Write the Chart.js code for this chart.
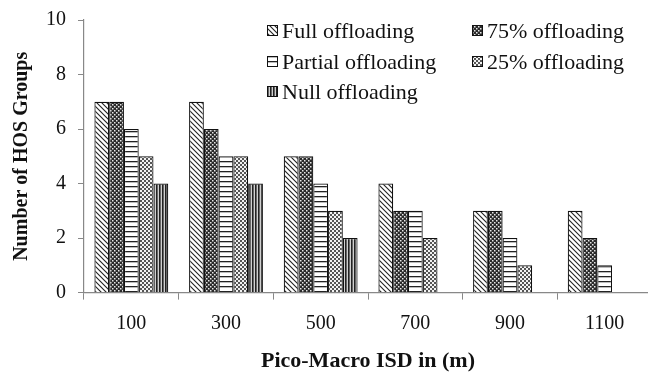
<!DOCTYPE html>
<html>
<head>
<meta charset="utf-8">
<script src="https://cdn.jsdelivr.net/npm/chart.js@4/dist/chart.umd.min.js"></script>
<style>
  html, body { margin: 0; padding: 0; background: #fff; overflow: hidden; }
  #wrap { width: 656px; height: 379px; margin-top: -4px; position: relative; }
</style>
</head>
<body>
<div id="wrap"><canvas id="hos-chart"></canvas></div>
<script>
// Number of HOS groups per Pico-Macro ISD
var categories = [ '100', '300', '500', '700', '900', '1100' ];
var seriesNames = [ 'Full offloading', '75% offloading', 'Partial offloading', '25% offloading', 'Null offloading' ];
var fullOffloading    = [ 7, 7, 5, 4, 3, 3 ];
var offloading75      = [ 7, 6, 5, 3, 3, 2 ];
var partialOffloading = [ 6, 5, 4, 3, 2, 1 ];
var offloading25      = [ 5, 5, 3, 2, 1, 0 ];
var nullOffloading    = [ 4, 4, 2, 0, 0, 0 ];
var yTicks = [ 0, 2, 4, 6, 8, 10 ];

var SERIF = '"Liberation Serif", "Times New Roman", serif';

// small tiles used as hatch fills
function makePattern( kind ) {
	var c = document.createElement( 'canvas' );
	var ctx = c.getContext( '2d' );
	var s;
	if ( kind === 'diag' ) {
		s = 5;
		c.width = s; c.height = s;
		ctx.fillStyle = '#fff'; ctx.fillRect( 0, 0, s, s );
		ctx.strokeStyle = '#222'; ctx.lineWidth = 1.1;
		ctx.beginPath();
		ctx.moveTo( 0, 0 ); ctx.lineTo( s, s );
		ctx.moveTo( -1, s - 1 ); ctx.lineTo( 1, s + 1 );
		ctx.moveTo( s - 1, -1 ); ctx.lineTo( s + 1, 1 );
		ctx.stroke();
	} else if ( kind === 'checkDark' ) {
		s = 4;
		c.width = s; c.height = s;
		ctx.fillStyle = '#2a2a2a'; ctx.fillRect( 0, 0, s, s );
		ctx.fillStyle = '#e8e8e8';
		ctx.fillRect( 0, 0, 1.5, 1.5 );
		ctx.fillRect( 2, 2, 1.5, 1.5 );
	} else if ( kind === 'horiz' ) {
		s = 5;
		c.width = s; c.height = s;
		ctx.fillStyle = '#fff'; ctx.fillRect( 0, 0, s, s );
		ctx.fillStyle = '#222'; ctx.fillRect( 0, 0, s, 1.3 );
	} else if ( kind === 'checkLight' ) {
		s = 4;
		c.width = s; c.height = s;
		ctx.fillStyle = '#f2f2f2'; ctx.fillRect( 0, 0, s, s );
		ctx.fillStyle = '#555';
		ctx.fillRect( 0, 0, 2, 2 );
		ctx.fillRect( 2, 2, 2, 2 );
	} else {
		s = 3;
		c.width = s; c.height = s;
		ctx.fillStyle = '#d0d0d0'; ctx.fillRect( 0, 0, s, s );
		ctx.fillStyle = '#222'; ctx.fillRect( 0, 0, 1.6, s );
	}
	return ctx.createPattern( c, 'repeat' );
}

var patterns = [
	makePattern( 'diag' ),
	makePattern( 'checkDark' ),
	makePattern( 'horiz' ),
	makePattern( 'checkLight' ),
	makePattern( 'vert' )
];
var seriesData = [ fullOffloading, offloading75, partialOffloading, offloading25, nullOffloading ];

var datasets = seriesData.map( function ( values, i ) {
	return {
		label: seriesNames[ i ],
		data: values,
		backgroundColor: patterns[ i ],
		borderColor: '#111',
		borderWidth: function ( ctx ) { return ctx.raw === 0 ? 0 : 1.2; },
		borderSkipped: 'bottom',
		categoryPercentage: 0.78,
		barPercentage: 1.0
	};
} );

// two-column legend in the top right corner (wrapper is shifted up 4px)
var serifLegend = {
	id: 'serifLegend',
	afterDraw: function ( chart ) {
		var ctx = chart.ctx;
		var cols = [ 267, 472 ];
		var rows = [ 35, 66, 96 ];
		ctx.save();
		ctx.font = '22px ' + SERIF;
		ctx.textBaseline = 'middle';
		chart.data.datasets.forEach( function ( ds, i ) {
			var x = cols[ i % 2 ];
			var y = rows[ Math.floor( i / 2 ) ];
			ctx.fillStyle = ds.backgroundColor;
			ctx.fillRect( x, y - 6, 11, 11 );
			ctx.strokeStyle = '#111';
			ctx.lineWidth = 1;
			ctx.strokeRect( x + 0.5, y - 5.5, 10, 10 );
			ctx.fillStyle = '#111';
			ctx.fillText( ds.label, x + 15, y + 1 );
		} );
		ctx.restore();
	}
};

new Chart( document.getElementById( 'hos-chart' ).getContext( '2d' ), {
	type: 'bar',
	data: { labels: categories, datasets: datasets },
	plugins: [ serifLegend ],
	options: {
		responsive: true,
		maintainAspectRatio: false,
		animation: false,
		layout: { padding: { top: 5, right: 4, left: 0, bottom: 0 } },
		plugins: {
			legend: { display: false },
			tooltip: { enabled: false }
		},
		scales: {
			x: {
				offset: true,
				grid: { display: true, drawOnChartArea: false, offset: true, tickLength: 7, color: '#888' },
				border: { color: '#888', width: 1.2 },
				ticks: { color: '#111', font: { family: SERIF, size: 20 }, padding: 12 },
				title: { display: true, text: 'Pico-Macro ISD in (m)', color: '#111', font: { family: SERIF, size: 22, weight: 'bold' }, padding: { top: 1, bottom: 0 } }
			},
			y: {
				min: 0,
				max: 10,
				afterBuildTicks: function ( axis ) {
					axis.ticks = yTicks.map( function ( v ) { return { value: v }; } );
				},
				grid: { display: true, drawOnChartArea: false, tickLength: 6, color: '#888' },
				border: { color: '#888', width: 1.2 },
				ticks: { color: '#111', font: { family: SERIF, size: 20 }, padding: 12 },
				title: { display: true, text: 'Number of HOS Groups', color: '#111', font: { family: SERIF, size: 20, weight: 'bold' }, padding: { top: 10, bottom: 0 } }
			}
		}
	}
} );
</script>
</body>
</html>
